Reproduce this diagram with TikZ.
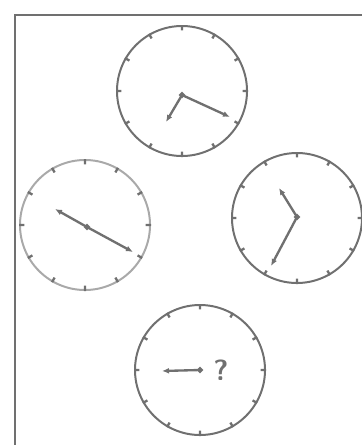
\documentclass[tikz,border=0pt]{standalone}
\usepackage{xcolor}
\usepackage{tikz}
\usetikzlibrary{arrows.meta,shapes.geometric,calc}
\definecolor{clockgray}{RGB}{112,112,112}

\begin{document}
\begin{tikzpicture}[
    x=0.03cm, y=-0.03cm,
    clockface/.style={
        circle, draw=clockgray, line width=1.7pt,
        minimum size=3.9cm, inner sep=0pt
    },
    paleface/.style={clockface, draw=clockgray!60},
    tickmark/.style={draw=clockgray, line width=2pt},
    hand/.style={-{Latex[length=6pt,width=5pt]}, line width=2pt, clockgray},
    pivot/.style={diamond, fill=clockgray, inner sep=0pt, minimum size=6pt}
]
\useasboundingbox (0,0) rectangle (362,445);

% frame
\draw[clockgray, line width=1.6pt] (15,445) -- (15,15) -- (362,15);

% clock faces
\node[clockface] (top)    at (182,91)  {};
\node[paleface]  (left)   at (85,225)  {};
\node[clockface] (right)  at (297,218) {};
\node[clockface] (bottom) at (200,370) {};

% hour ticks
\foreach \c in {top,left,right,bottom}
  \foreach \a in {0,30,...,330}
    \draw[tickmark] (\c.\a) -- ($(\c.\a)!0.08!(\c.center)$);

% hands
\coordinate (topc)  at (182,95);
\coordinate (leftc) at (87,227);
\coordinate (rightc) at (297,217);
\coordinate (botc)  at (200,370);

\draw[hand] (topc) -- (230,117);
\draw[hand] (topc) -- (166,122);
\draw[hand] (leftc) -- (55,209);
\draw[hand] (leftc) -- (133,252);
\draw[hand] (rightc) -- (279,188);
\draw[hand] (rightc) -- (271,266);
\draw[hand] (botc) -- (162,371);

\foreach \p in {topc,leftc,rightc,botc}
  \node[pivot] at (\p) {};

\node[clockgray, font=\sffamily\bfseries\Huge] (qmark) at (221,370) {?};
\end{tikzpicture}
\end{document}
